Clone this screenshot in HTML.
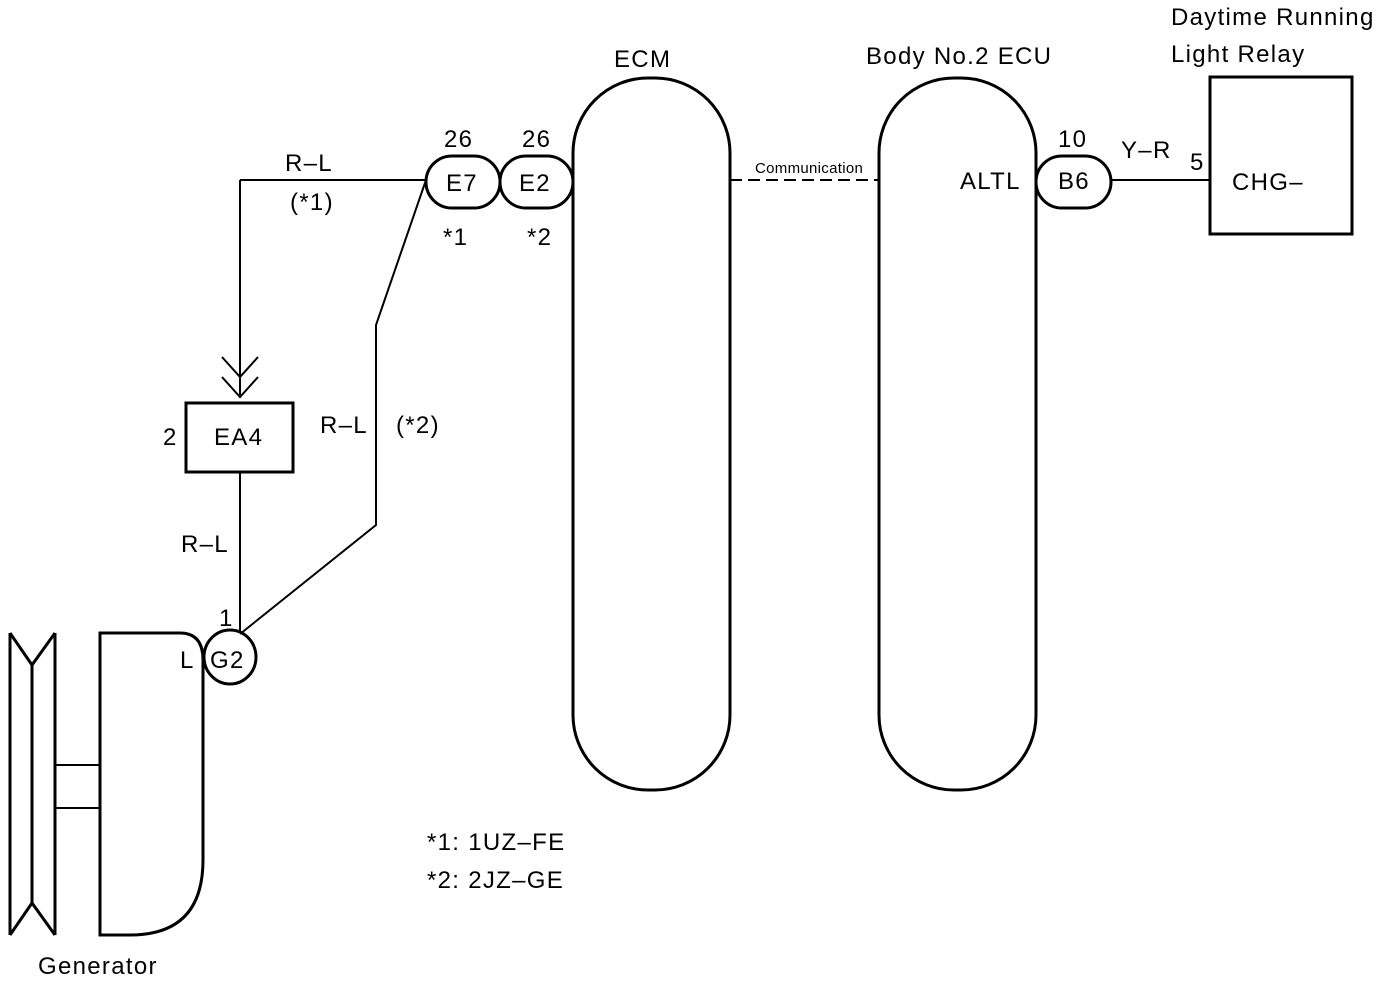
<!DOCTYPE html>
<html><head><style>body{margin:0;background:#fff}svg{display:block}text{font-family:"Liberation Sans",sans-serif;fill:#000;letter-spacing:1.3px}</style></head><body>
<svg width="1392" height="982" viewBox="0 0 1392 982" xmlns="http://www.w3.org/2000/svg">
<g fill="none" stroke="#000" stroke-width="3">
<rect x="573" y="78" width="157" height="712" rx="75"/>
<rect x="879" y="78" width="157" height="712" rx="75"/>
<rect x="426" y="156" width="74" height="52" rx="26"/>
<rect x="500" y="156" width="73" height="52" rx="26"/>
<rect x="1036" y="156" width="75" height="52" rx="26"/>
<rect x="1210" y="77" width="142" height="157"/>
<rect x="186" y="403" width="107" height="69"/>
<ellipse cx="230" cy="657" rx="26" ry="27"/>
<path d="M100 633 H180 Q203 633 203 660 V860 Q203 935 130 935 H100 Z"/>
<path d="M10 633 V935 M55 633 V935 M10 633 L32 665 L55 633 M10 935 L32 903 L55 935 M32 665 V903"/>
</g>
<g fill="none" stroke="#000" stroke-width="2">
<path d="M55 765 H100 M55 808 H100"/>
<path d="M240 180 H426 M240 180 V395 M222 357 L240 377 L258 357 M222 377 L240 397 L258 377"/>
<path d="M240 472 V632"/>
<path d="M426 180 L376 325 V525 L240 634"/>
<path d="M1111 180 H1210"/>
<path d="M730 180 H879" stroke-dasharray="12,6"/>
</g>
<g font-size="24">
<text x="614" y="67">ECM</text>
<text x="866" y="64">Body No.2 ECU</text>
<text x="1171" y="25">Daytime Running</text>
<text x="1171" y="62">Light Relay</text>
<text x="444" y="147">26</text>
<text x="522" y="147">26</text>
<text x="446" y="191">E7</text>
<text x="519" y="191">E2</text>
<text x="443" y="245">*1</text>
<text x="527" y="245">*2</text>
<text x="285" y="171">R–L</text>
<text x="290" y="210">(*1)</text>
<text x="960" y="189">ALTL</text>
<text x="1058" y="189">B6</text>
<text x="1058" y="147">10</text>
<text x="1121" y="158">Y–R</text>
<text x="1190" y="170">5</text>
<text x="1232" y="190">CHG–</text>
<text x="163" y="445">2</text>
<text x="214" y="445">EA4</text>
<text x="320" y="433">R–L</text>
<text x="396" y="433">(*2)</text>
<text x="181" y="552">R–L</text>
<text x="219" y="626">1</text>
<text x="180" y="668">L</text>
<text x="210" y="668">G2</text>
<text x="427" y="850">*1: 1UZ–FE</text>
<text x="427" y="888">*2: 2JZ–GE</text>
<text x="38" y="974">Generator</text>
</g>
<text x="755" y="173" font-size="15" style="letter-spacing:0.3px">Communication</text>
</svg>
</body></html>
